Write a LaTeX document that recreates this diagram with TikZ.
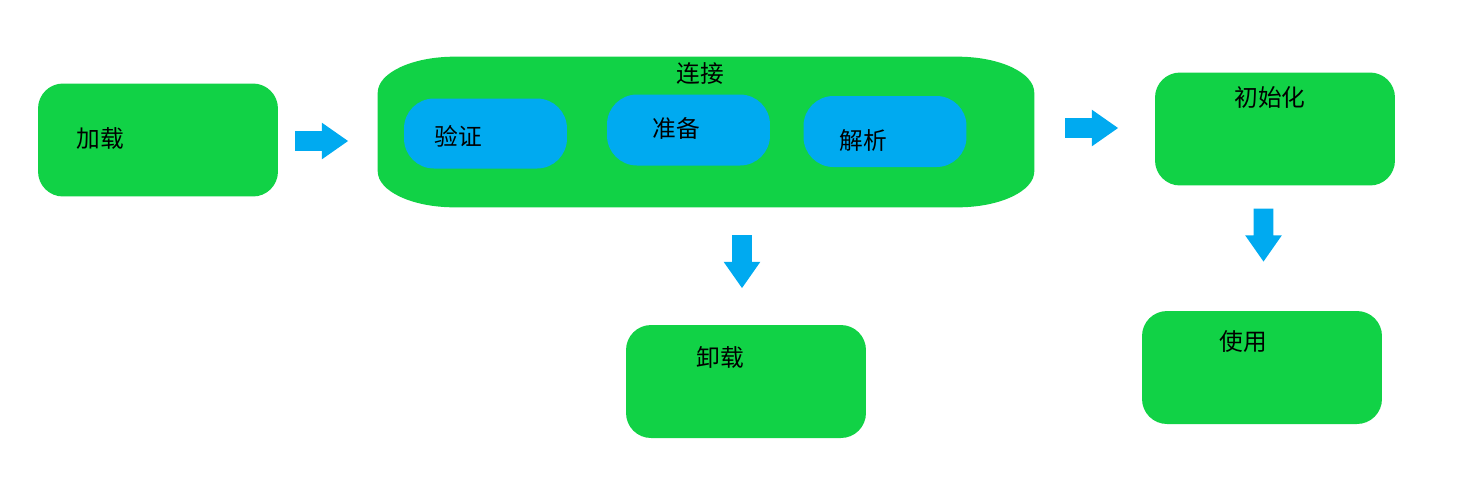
\documentclass[tikz,border=0pt]{standalone}
\usepackage{fontspec}
\setmainfont{Noto Sans CJK SC}
\usetikzlibrary{shapes.arrows}

\definecolor{stagegreen}{RGB}{17,210,70}
\definecolor{stepblue}{RGB}{0,170,240}

\tikzset{
  stage/.style={fill=stagegreen, rounded corners=0.5cm, inner sep=0pt, outer sep=0pt,
    minimum width=4.8cm, minimum height=2.26cm},
  substep/.style={fill=stepblue, rounded corners=0.6cm, inner sep=0pt, outer sep=0pt,
    minimum width=3.26cm, minimum height=1.42cm},
  blockarrow/.style={single arrow, fill=stepblue, inner sep=0.19cm, minimum height=1.06cm,
    single arrow head extend=0.17cm, single arrow tip angle=70},
  caption/.style={inner sep=0pt, font=\fontsize{13.5pt}{16pt}\selectfont}
}

\begin{document}
\begin{tikzpicture}[x=0.02cm, y=-0.02cm]

    % Fix the page to the size of the picture
    \useasboundingbox (0,0) rectangle (1472,485);

    % Define the big linking stage and draw it with its wide corners
    \node[inner sep=0pt, minimum width=13.12cm, minimum height=3cm] (link) at (706,132) {};
    \fill[stagegreen] ([xshift=1.54cm]link.north west) -- ([xshift=-1.54cm]link.north east)
        arc[start angle=90, end angle=0, x radius=1.54cm, y radius=0.72cm]
        -- ([yshift=0.72cm]link.south east)
        arc[start angle=0, end angle=-90, x radius=1.54cm, y radius=0.72cm]
        -- ([xshift=1.54cm]link.south west)
        arc[start angle=270, end angle=180, x radius=1.54cm, y radius=0.72cm]
        -- ([yshift=-0.72cm]link.north west)
        arc[start angle=180, end angle=90, x radius=1.54cm, y radius=0.72cm] -- cycle;

    % The other stages
    \node[stage] (load) at (158,140) {};
    \node[stage] (init) at (1275,129) {};
    \node[stage] (use) at (1262,367.5) {};
    \node[stage] (unload) at (746,381.5) {};

    % The three steps inside the linking stage
    \node[substep, minimum height=1.4cm] (verify) at (485.5,133.5) {};
    \node[substep] (prepare) at (688.5,130) {};
    \node[substep] (resolve) at (885,131.5) {};

    % Block arrows between the stages
    \node[blockarrow] (loadtolink) at (314.5,141) {};
    \node[blockarrow] (linktoinit) at (1084.5,128) {};
    \node[blockarrow, rotate=-90] (linktounload) at (742,254.5) {};
    \node[blockarrow, rotate=-90] (inittouse) at (1263.5,228) {};

    % Add the texts
    \node[caption] (loadtext) at (100,138) {加载};
    \node[caption] (linktext) at (700,74) {连接};
    \node[caption] (verifytext) at (458.5,136) {验证};
    \node[caption] (preparetext) at (676,128) {准备};
    \node[caption] (resolvetext) at (863,141) {解析};
    \node[caption] (inittext) at (1270,97) {初始化};
    \node[caption] (usetext) at (1243,342) {使用};
    \node[caption] (unloadtext) at (720,357) {卸载};

\end{tikzpicture}
\end{document}
